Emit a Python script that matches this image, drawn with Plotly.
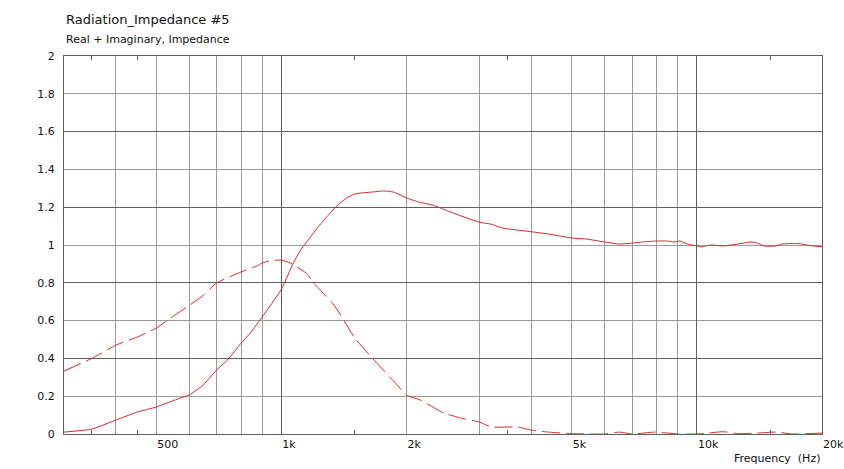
import plotly.graph_objects as go
import math

# ---- data ----
freq_real = [300, 350, 400, 450, 500, 571, 600, 649, 700, 741, 800, 842, 900, 1000, 1069, 1111,
             1221, 1300, 1364, 1440, 1500, 1650, 1761, 1861, 2000, 2120, 2323, 2550, 3000, 3200,
             3400, 4000, 4400, 5000, 5400, 6000, 6500, 7000, 7400, 8000, 8500, 8800, 9100, 9500,
             10000, 10200, 10800, 11600, 12500, 13500, 14000, 14500, 15500, 16000, 17500, 18600, 20000]
real_vals = [0.01, 0.026, 0.074, 0.116, 0.143, 0.19, 0.206, 0.26, 0.34, 0.39, 0.48, 0.534, 0.62, 0.765,
             0.905, 0.97, 1.09, 1.16, 1.21, 1.25, 1.27, 1.28, 1.286, 1.28, 1.25, 1.23, 1.21, 1.175,
             1.12, 1.11, 1.09, 1.07, 1.058, 1.037, 1.032, 1.016, 1.005, 1.01, 1.016, 1.021, 1.021,
             1.016, 1.021, 1.005, 0.995, 0.99, 1.0, 0.995, 1.005, 1.016, 1.01, 0.995, 0.995, 1.005,
             1.008, 0.998, 0.99]

freq_imag = [300, 350, 400, 450, 500, 555, 600, 650, 700, 800, 875, 900, 950, 1000, 1050, 1092, 1150,
             1195, 1230, 1330, 1380, 1500, 1690, 1900, 2000, 2160, 2460, 2700, 3000, 3200, 3700,
             4000, 4400, 5000, 6000, 6500, 7000, 7900, 8500, 9000, 10000, 11600, 12500, 14000,
             15500, 17000, 20000]
imag_vals = [0.333, 0.40, 0.47, 0.513, 0.56, 0.63, 0.68, 0.735, 0.80, 0.857, 0.89, 0.905, 0.918, 0.92,
             0.905, 0.883, 0.85, 0.80, 0.77, 0.69, 0.64, 0.51, 0.38, 0.26, 0.206, 0.18, 0.111, 0.085,
             0.063, 0.037, 0.037, 0.02, 0.01, 0.002, 0.0, 0.01, 0.0, 0.01, 0.005, 0.0, 0.0, 0.012,
             0.002, 0.005, 0.01, 0.0, 0.005]

grid_freqs = [400, 500, 600, 700, 800, 900, 1000, 2000, 3000, 4000, 5000, 6000, 7000, 8000, 9000,
              10000, 20000]
grid_labels = ["", "500", "", "", "", "", "1k", "2k", "", "", "5k", "", "", "", "", "10k", "20k"]
major_freqs = [1000, 10000]
minor_tick_freqs = [350, 450, 1500, 3500, 15000]
y_ticks = [0, 0.2, 0.4, 0.6, 0.8, 1.0, 1.2, 1.4, 1.6, 1.8, 2.0]
y_labels = ["0", "0.2", "0.4", "0.6", "0.8", "1", "1.2", "1.4", "1.6", "1.8", "2"]
y_major = [0.4, 0.8, 1.2, 1.6]

title = "Radiation_Impedance #5"
subtitle = "Real + Imaginary, Impedance"
x_title = "Frequency  (Hz)"

RED = "#dc2626"
LIGHT = "#9a9a9a"
DARK = "#5e5e5e"
FONT = "DejaVu Sans"
xr = [math.log10(300), math.log10(20000)]
yr = [0, 2]

fig = go.Figure()
fig.add_trace(go.Scatter(x=freq_real, y=real_vals, mode="lines",
                         line=dict(color=RED, width=1, shape="spline", smoothing=0.5),
                         showlegend=False, hoverinfo="skip"))
fig.add_trace(go.Scatter(x=freq_imag, y=imag_vals, mode="lines",
                         line=dict(color=RED, width=1, dash="18px,6px", shape="spline", smoothing=0.5),
                         showlegend=False, hoverinfo="skip"))

fig.update_layout(
    width=844, height=469,
    margin=dict(l=64, r=22, t=56, b=35, autoexpand=False),
    paper_bgcolor="white", plot_bgcolor="white",
    font=dict(family=FONT, size=11, color="#111111"),
    xaxis=dict(type="log", range=xr, tickvals=grid_freqs, ticktext=grid_labels, automargin=False,
               showgrid=True, gridcolor=LIGHT, gridwidth=1, zeroline=False,
               showline=True, linecolor=DARK, linewidth=1, mirror=True,
               ticks="outside", ticklen=4, tickcolor="rgba(0,0,0,0)",
               ticklabelposition="outside right", tickfont=dict(size=11)),
    yaxis=dict(range=yr, tickvals=y_ticks, ticktext=y_labels, automargin=False,
               showgrid=True, gridcolor=LIGHT, gridwidth=1, zeroline=False,
               showline=True, linecolor=DARK, linewidth=1, mirror=True,
               ticks="outside", ticklen=6, tickcolor="rgba(0,0,0,0)", tickfont=dict(size=11)),
    xaxis2=dict(type="log", range=xr, overlaying="x", tickvals=major_freqs, automargin=False,
                showgrid=True, gridcolor=DARK, gridwidth=1, showticklabels=False, zeroline=False),
    xaxis3=dict(type="log", range=xr, overlaying="x", tickvals=minor_tick_freqs, automargin=False,
                showgrid=False, showticklabels=False, zeroline=False,
                ticks="inside", ticklen=4, tickcolor=DARK, mirror="ticks", showline=False),
    yaxis2=dict(range=yr, overlaying="y", tickvals=y_major, automargin=False,
                showgrid=True, gridcolor=DARK, gridwidth=1, showticklabels=False, zeroline=False),
)
# invisible traces to activate overlay axes
fig.add_trace(go.Scatter(x=[300], y=[None], xaxis="x2", yaxis="y2", showlegend=False, hoverinfo="skip"))
fig.add_trace(go.Scatter(x=[300], y=[None], xaxis="x3", yaxis="y", showlegend=False, hoverinfo="skip"))

fig.add_annotation(text=title, xref="paper", yref="paper", x=0, y=(434 - 20) / 378,
                   xanchor="left", yanchor="middle", showarrow=False,
                   font=dict(family=FONT, size=13, color="#111111"))
fig.add_annotation(text=subtitle, xref="paper", yref="paper", x=0, y=(434 - 39) / 378,
                   xanchor="left", yanchor="middle", showarrow=False,
                   font=dict(family=FONT, size=11, color="#111111"))
fig.add_annotation(text=x_title, xref="paper", yref="paper", x=1, y=-(458 - 434) / 378,
                   xanchor="right", yanchor="middle", showarrow=False,
                   font=dict(family=FONT, size=11, color="#111111"))

fig.write_html("out.html", config={"displayModeBar": False},
               post_script="document.body.style.margin='0';document.body.style.overflow='hidden';")
